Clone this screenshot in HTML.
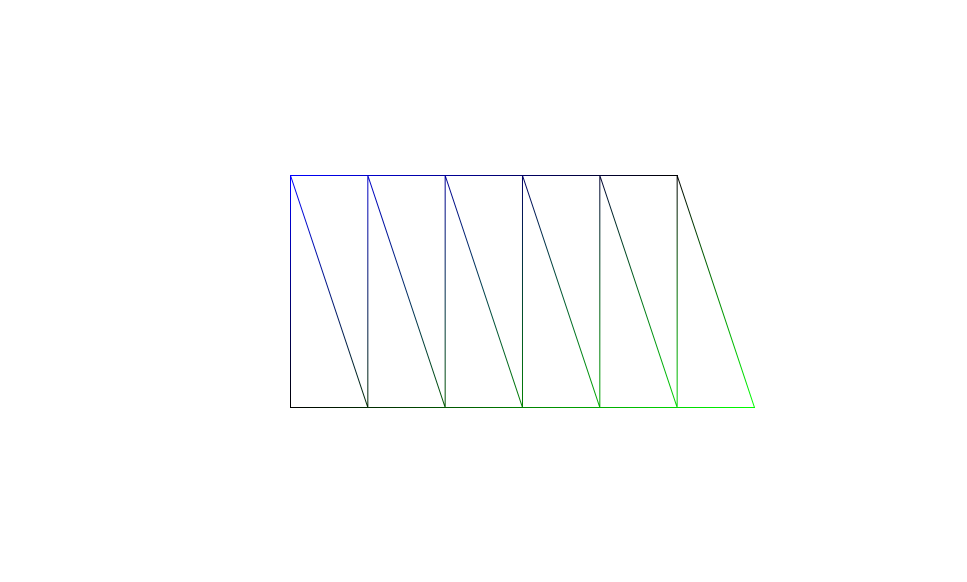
<!DOCTYPE html>
<html><head><meta charset="utf-8"><style>html,body{margin:0;background:#fff}svg{display:block}</style></head>
<body>
<svg id="chart" width="967" height="582" xmlns="http://www.w3.org/2000/svg"><defs id="defs"></defs><g id="mesh"></g></svg>
<script>
// Data: top-row vertex x indices and bottom-row vertex x indices (grid units)
const topCols = [0, 1, 2, 3, 4, 5];
const bottomCols = [0, 1, 2, 3, 4, 5, 6];
const topBlue = [255, 204, 153, 102, 51, 0];
const bottomGreen = [0, 42, 85, 128, 170, 213, 255];
const rows = [1, 0]; // top row value, bottom row value

const NS = "http://www.w3.org/2000/svg";
const x = c => 290 + c * 77.33;
const y = r => 407 - r * 232;
const defs = document.getElementById('defs'), g = document.getElementById('mesh');
let gid = 0;
function rgb(v){return v.type==='t'?[0,0,topBlue[v.i]]:[0,bottomGreen[v.i],0];}
function col(v){const c=rgb(v);return 'rgb('+c[0]+','+c[1]+','+c[2]+')';}
function pos(v){return v.type==='t'?[x(topCols[v.i]),y(rows[0])]:[x(bottomCols[v.i]),y(rows[1])];}
function line(x1,y1,x2,y2,stroke,name){
  const l=document.createElementNS(NS,'line');
  l.setAttribute('x1',x1+0.5);l.setAttribute('y1',y1+0.5);l.setAttribute('x2',x2+0.5);l.setAttribute('y2',y2+0.5);
  l.setAttribute('stroke',stroke);l.setAttribute('stroke-width','1');
  
  
  g.appendChild(l);
}
function hedge(a,b,name){
  const [x1,y1]=pos(a),[x2]=pos(b);const ca=rgb(a),cb=rgb(b);
  const n=8;
  for(let k=0;k<n;k++){
    const t=(k+0.5)/n;
    const c=ca.map((v,i)=>Math.round(v+(cb[i]-v)*t));
    const r=document.createElementNS(NS,'rect');
    const xa=Math.round(x1+(x2-x1)*k/n), xb=Math.round(x1+(x2-x1)*(k+1)/n);
    r.setAttribute('x',xa);r.setAttribute('y',Math.round(y1));
    r.setAttribute('width',Math.max(1,xb-xa+1));r.setAttribute('height',1);
    r.setAttribute('fill','rgb('+c[0]+','+c[1]+','+c[2]+')');
    
    
    g.appendChild(r);
  }
}
function edge(a,b,name){
  const [x1,y1]=pos(a),[x2,y2]=pos(b);
  const lg=document.createElementNS(NS,'linearGradient');
  lg.setAttribute('id','g'+gid);lg.setAttribute('gradientUnits','userSpaceOnUse');
  lg.setAttribute('x1',x1);lg.setAttribute('y1',y1);lg.setAttribute('x2',x2+(x1===x2?0.001:0));lg.setAttribute('y2',y2);
  lg.innerHTML='<stop offset="0" stop-color="'+col(a)+'"/><stop offset="1" stop-color="'+col(b)+'"/>';
  defs.appendChild(lg);
  line(x1,y1,x2,y2,'url(#g'+gid+')',name);
  gid++;
}
for(let i=0;i<topCols.length;i++){
  edge({type:'t',i},{type:'b',i},'vertical-edge');
  edge({type:'t',i},{type:'b',i:i+1},'diagonal-edge');
}
for(let i=0;i<topCols.length-1;i++) hedge({type:'t',i},{type:'t',i:i+1},'top-edge');
for(let j=0;j<bottomCols.length-1;j++) hedge({type:'b',i:j},{type:'b',i:j+1},'bottom-edge');
</script>
</body></html>
